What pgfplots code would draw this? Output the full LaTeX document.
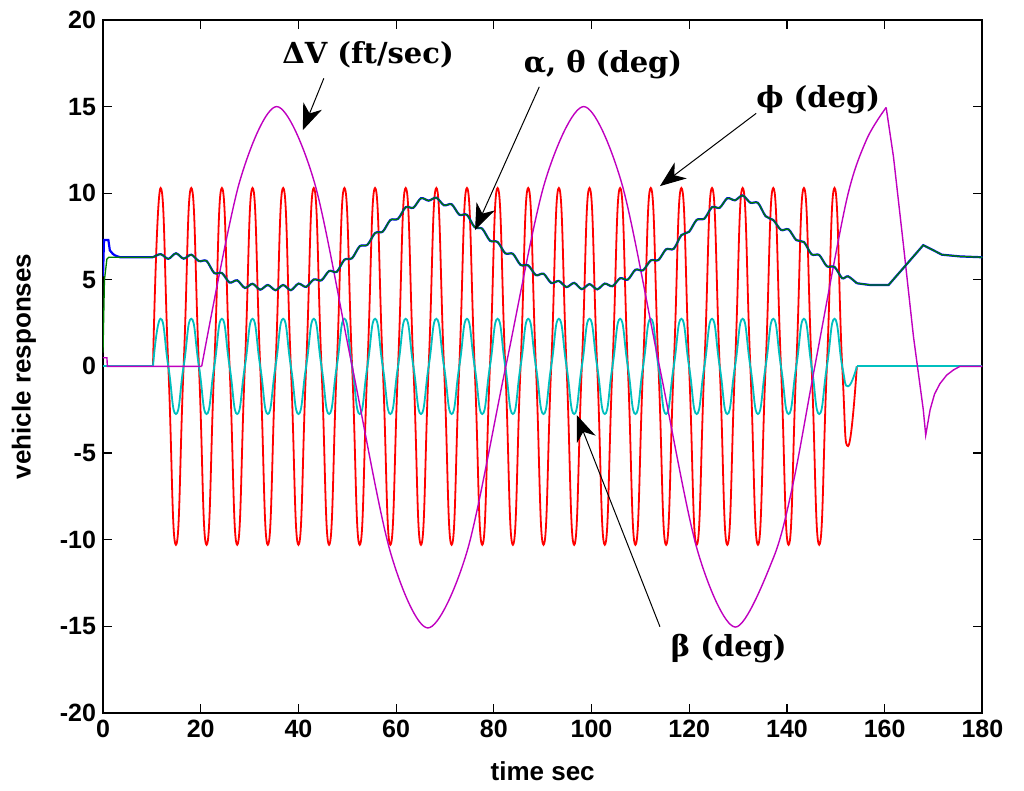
\documentclass[border=0pt]{standalone}
\usepackage{fontspec}
\setmainfont{Liberation Sans}
\newfontfamily\annfont{DejaVu Serif}
\usepackage{pgfplots}
\pgfplotsset{compat=1.18}
\usepackage{pgfplotstable}
\usetikzlibrary{arrows.meta}
\definecolor{mred}{rgb}{1,0,0}
\definecolor{mmag}{rgb}{0.75,0,0.75}
\definecolor{mcyan}{rgb}{0,0.75,0.75}
\definecolor{mgreen}{rgb}{0,0.5,0}
\definecolor{mblue}{rgb}{0,0,1}

\pgfplotstableread{
t phi beta alpha
10.23 0 0 6.30
11.80 10.3 2.75 6.48
13.37 0 0 6.21
14.93 -10.3 -2.75 6.53
16.50 0 0 6.22
18.07 10.3 2.75 6.45
19.64 0 0 6.08
21.20 -10.3 -2.75 6.09
22.77 0 0 5.39
24.34 10.3 2.75 5.39
25.91 0 0 4.84
27.47 -10.3 -2.75 4.97
29.04 0 0 4.53
30.61 10.3 2.75 4.77
32.18 0 0 4.43
33.74 -10.3 -2.75 4.70
35.31 0 0 4.40
36.88 10.3 2.75 4.70
38.45 0 0 4.40
40.01 -10.3 -2.75 4.78
41.58 0 0 4.59
43.15 10.3 2.75 5.02
44.72 0 0 4.97
46.28 -10.3 -2.75 5.51
47.85 0 0 5.46
49.42 10.3 2.75 6.16
50.99 0 0 6.25
52.55 -10.3 -2.75 6.94
54.12 0 0 7.02
55.69 10.3 2.75 7.70
57.26 0 0 7.78
58.82 -10.3 -2.75 8.45
60.39 0 0 8.52
61.96 10.3 2.75 9.19
63.53 0 0 9.16
65.09 -10.3 -2.75 9.71
66.66 0 0 9.57
68.23 10.3 2.75 9.74
69.80 0 0 9.30
71.36 -10.3 -2.75 9.36
72.93 0 0 8.76
74.50 10.3 2.75 8.75
76.07 0 0 8.04
77.63 -10.3 -2.75 7.95
79.20 0 0 7.26
80.77 10.3 2.75 7.18
82.34 0 0 6.53
83.90 -10.3 -2.75 6.50
85.47 0 0 5.86
87.04 10.3 2.75 5.83
88.61 0 0 5.27
90.17 -10.3 -2.75 5.35
91.74 0 0 4.82
93.31 10.3 2.75 4.93
94.88 0 0 4.58
96.44 -10.3 -2.75 4.82
98.01 0 0 4.46
99.58 10.3 2.75 4.75
101.15 0 0 4.45
102.71 -10.3 -2.75 4.78
104.28 0 0 4.63
105.85 10.3 2.75 5.09
107.42 0 0 5.01
108.98 -10.3 -2.75 5.58
110.55 0 0 5.55
112.12 10.3 2.75 6.12
113.69 0 0 6.14
115.25 -10.3 -2.75 6.76
116.82 0 0 6.79
118.39 10.3 2.75 7.58
119.96 0 0 7.77
121.52 -10.3 -2.75 8.46
123.09 0 0 8.53
124.66 10.3 2.75 9.19
126.23 0 0 9.16
127.79 -10.3 -2.75 9.71
129.36 0 0 9.59
130.93 10.3 2.75 9.87
132.50 0 0 9.45
134.06 -10.3 -2.75 9.44
135.63 0 0 8.67
137.20 10.3 2.75 8.45
138.77 0 0 7.88
140.33 -10.3 -2.75 7.91
141.90 0 0 7.29
143.47 10.3 2.75 7.18
145.04 0 0 6.47
146.60 -10.3 -2.75 6.43
148.17 0 0 5.78
149.74 10.3 2.75 5.74
151.31 0 0 5.09
152.50 -4.6 -1.15 5.20
154.30 0 0 4.80
}\osc

\pgfplotstableread{
t v
20.2 0
27.9 10.6
35.55 15
43.3 10.6
51.0 0
58.8 -10.7
66.5 -15.1
74.5 -10.7
82.45 0
90.4 10.6
98.4 15
106.15 10.6
113.9 0
121.65 -10.6
129.4 -15.05
137.3 -11.0
141.3 -6.7
145.7 0
152.2 9.6
156.3 13.1
160.3 14.95
}\dvmain

\pgfplotstableread{
t v
160.3 14.95
161.8 12.1
163.8 7.1
165.9 1.7
167.9 -2.5
168.4 -3.97
169.3 -2.5
170.2 -1.6
171.3 -1.0
172.7 -0.5
174.1 -0.2
175.4 0
180 0
}\dvtail

\begin{document}
\begin{tikzpicture}
\useasboundingbox (-51.5pt,-39.1pt) rectangle (460.5pt,356.4pt);
\begin{axis}[
  width=439.7pt, height=346.4pt, scale only axis,
  xmin=0, xmax=180, ymin=-20, ymax=20,
  xtick={0,20,...,180}, ytick={-20,-15,...,20},
  tick align=inside, xtick pos=both, ytick pos=both,
  major tick length=4.5pt,
  every tick/.style={black, line width=0.6pt},
  axis line style={line width=1pt},
  /pgf/number format/assume math mode=true,
  ticklabel style={font=\fontsize{12.5}{14}\selectfont\bfseries},
  label style={font=\fontsize{13}{15}\selectfont\bfseries},
  xlabel={time sec},
  ylabel={vehicle responses},
  xlabel style={at={(axis description cs:0.5,-0.0837)}, anchor=center},
  ylabel style={at={(axis description cs:-0.09,0.5)}, anchor=center},
]
% phi (red)
\addplot[mred, line width=0.9pt] coordinates {(0,0) (10.23,0)};
\addplot[mred, line width=0.9pt, smooth, tension=0.9] table[x=t,y=phi]{\osc};
\addplot[mred, line width=0.9pt] coordinates {(154.3,0) (180,0)};
% beta (cyan)
\addplot[mcyan, line width=0.9pt] coordinates {(0,0) (10.23,0)};
\addplot[mcyan, line width=0.9pt, smooth, tension=0.9] table[x=t,y=beta]{\osc};
\addplot[mcyan, line width=0.9pt] coordinates {(154.3,0) (180,0)};
% Delta V (magenta)
\addplot[mmag, line width=0.7pt] coordinates {(0,0.5) (0.8,0.5) (0.9,0) (20.2,0)};
\addplot[mmag, line width=0.7pt, smooth] table[x=t,y=v]{\dvmain};
\addplot[mmag, line width=0.7pt] table[x=t,y=v]{\dvtail};
% alpha (blue)
\addplot[mblue, line width=1.1pt] coordinates {(0,5.2) (0.2,7.3) (1.1,7.3) (1.4,6.7) (2.0,6.5) (2.5,6.4) (3.5,6.3) (10.23,6.3)};
\addplot[mblue, line width=1.1pt, smooth] table[x=t,y=alpha]{\osc};
\addplot[mblue, line width=1.1pt] coordinates {(154.3,4.8) (157,4.7) (160.8,4.7) (167.9,7.0) (170,6.7) (171.7,6.45) (175.4,6.35) (180,6.3)};
% theta (green)
\addplot[mgreen, line width=0.65pt] coordinates {(0,0.8) (0.3,5.0) (0.8,6.2) (1.2,6.3) (10.23,6.3)};
\addplot[mgreen, line width=0.65pt, smooth] table[x=t,y=alpha]{\osc};
\addplot[mgreen, line width=0.65pt] coordinates {(154.3,4.8) (157,4.7) (160.8,4.7) (167.9,7.0) (170,6.7) (171.7,6.45) (175.4,6.35) (180,6.3)};
% annotations
\node[font=\annfont\bfseries\fontsize{14.5}{16}\selectfont] at (axis cs:54.25,17.97) {ΔV (ft/sec)};
\node[font=\annfont\bfseries\fontsize{14.5}{16}\selectfont] at (axis cs:102.35,17.4) {α, θ (deg)};
\node[font=\annfont\bfseries\fontsize{14.5}{16}\selectfont] at (axis cs:146.4,15.38) {ϕ (deg)};
\node[font=\annfont\bfseries\fontsize{14.5}{16}\selectfont] at (axis cs:128.1,-16.27) {β (deg)};
\draw[black, line width=0.5pt, -{Stealth[length=13pt,width=10pt,inset=4pt]}] (axis cs:45.2,16.63) -- (axis cs:40.9,13.64);
\draw[black, line width=0.5pt, -{Stealth[length=13pt,width=10pt,inset=4pt]}] (axis cs:89.3,16.14) -- (axis cs:76.15,7.87);
\draw[black, line width=0.5pt, -{Stealth[length=13pt,width=10pt,inset=4pt]}] (axis cs:133.7,14.61) -- (axis cs:114.0,10.41);
\draw[black, line width=0.5pt, -{Stealth[length=13pt,width=10pt,inset=4pt]}] (axis cs:114.0,-15.03) -- (axis cs:96.97,-2.81);
\end{axis}
\end{tikzpicture}
\end{document}
